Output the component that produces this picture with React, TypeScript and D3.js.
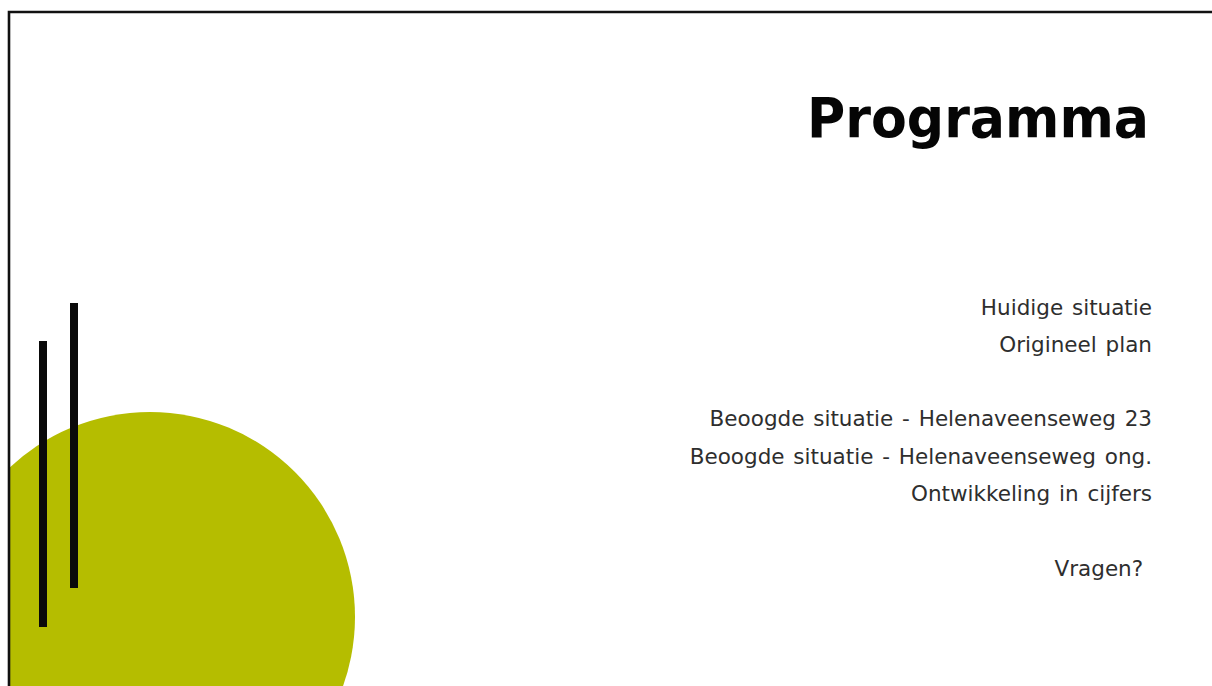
import React, { useEffect, useRef } from "react";
import * as d3 from "d3";

const W = 1212;
const H = 686;

const title = "Programma";
const agendaItems = [
  "Huidige situatie",
  "Origineel plan",
  "",
  "Beoogde situatie - Helenaveenseweg 23",
  "Beoogde situatie - Helenaveenseweg ong.",
  "Ontwikkeling in cijfers",
  "",
  "Vragen?\u00a0",
];
const barTops = [341, 303];
const barBottoms = [627, 588];
const barCentres = [43, 74];

export default function App() {
  const ref = useRef<SVGSVGElement | null>(null);

  useEffect(() => {
    const svg = d3.select(ref.current);
    svg.selectAll("*").remove();

    const defs = svg.append("defs");
    defs
      .append("clipPath")
      .attr("id", "frameClip")
      .append("rect")
      .attr("x", 10)
      .attr("y", 13)
      .attr("width", W)
      .attr("height", H);

    svg.append("rect").attr("width", W).attr("height", H).attr("fill", "#ffffff");

    svg
      .append("circle")
      .attr("clip-path", "url(#frameClip)")
      .attr("cx", 150)
      .attr("cy", 617)
      .attr("r", 205)
      .attr("fill", "#b5bd00");

    const barIdx = d3.range(barCentres.length);
    svg
      .selectAll("rect.bar")
      .data(barIdx)
      .join("rect")
      .attr("class", "bar")
      .attr("x", (i) => barCentres[i] - 4)
      .attr("y", (i) => barTops[i])
      .attr("width", 8)
      .attr("height", (i) => barBottoms[i] - barTops[i])
      .attr("fill", "#0a0a0a");

    svg
      .append("path")
      .attr("d", `M9,${H} L9,12 L${W},12`)
      .attr("fill", "none")
      .attr("stroke", "#111")
      .attr("stroke-width", 2.6);

    svg
      .append("text")
      .attr("x", 1149)
      .attr("y", 137)
      .attr("text-anchor", "end")
      .attr("font-family", "'DejaVu Sans', sans-serif")
      .attr("font-weight", 700)
      .attr("font-size", 56)
      .attr("textLength", 342)
      .attr("lengthAdjust", "spacingAndGlyphs")
      .attr("fill", "#050505")
      .text(title);

    const y = d3.scaleLinear().domain([0, agendaItems.length - 1]).range([314.5, 575.5]);

    svg
      .selectAll("text.item")
      .data(agendaItems)
      .join("text")
      .attr("class", "item")
      .attr("x", 1152)
      .attr("y", (_, i) => y(i))
      .attr("text-anchor", "end")
      .attr("font-family", "'DejaVu Sans', sans-serif")
      .attr("font-weight", 400)
      .attr("font-size", 21.5)
      .attr("word-spacing", 2)
      .style("font-variant-ligatures", "none")
      .attr("fill", "#2e2e2e")
      .text((d) => d);
  }, []);

  return (
    <div style={{ position: "fixed", left: 0, top: 0 }}>
      <svg ref={ref} width={W} height={H} style={{ display: "block" }} />
    </div>
  );
}
